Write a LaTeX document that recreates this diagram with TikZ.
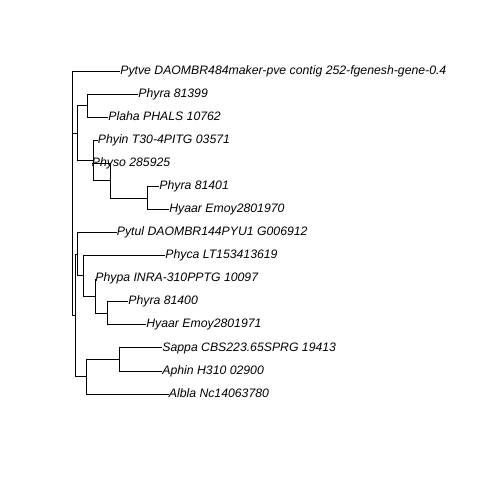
\documentclass[tikz,border=0pt]{standalone}
\usepackage{fontspec}
\setmainfont{Liberation Sans}
\begin{document}
\begin{tikzpicture}[x=1bp,y=-1bp,line width=0.8bp]
\tikzstyle{every node}+=[inner sep=0pt,anchor=west,text height=8.8bp,text depth=2.5bp,font=\fontsize{12.25bp}{14bp}\selectfont\itshape]
\useasboundingbox (0,0) rectangle (480,480);
\coordinate (root) at (72.7,193.2);
\coordinate (c1) at (77.7,133.0);
\coordinate (na) at (87,105.6);
\coordinate (nb) at (93.3,160.4);
\coordinate (nc) at (110,180.6);
\coordinate (nd) at (147,197.9);
\coordinate (r2) at (75,315.4);
\coordinate (ne) at (77.7,254.1);
\coordinate (nf) at (83.5,275.7);
\coordinate (np) at (95,295.9);
\coordinate (nq) at (107.5,313.25);
\coordinate (ng) at (86,376.7);
\coordinate (ns) at (119.5,359.4);
\node (pytve) at (120,71.0) {Pytve DAOMBR484maker-pve contig 252-fgenesh-gene-0.4};
\node (phyraa) at (138,94.07) {Phyra 81399};
\node (plaha) at (108,117.14) {Plaha PHALS 10762};
\node (phyin) at (97.5,140.21) {Phyin T30-4PITG 03571};
\node (physo) at (91.5,163.29) {Physo 285925};
\node (phyrab) at (159,186.36) {Phyra 81401};
\node (hyaara) at (169,209.43) {Hyaar Emoy2801970};
\node (pytul) at (116.5,232.5) {Pytul DAOMBR144PYU1 G006912};
\node (phyca) at (165,255.57) {Phyca LT153413619};
\node (phypa) at (95,278.64) {Phypa INRA-310PPTG 10097};
\node (phyrac) at (128,301.71) {Phyra 81400};
\node (hyaarb) at (146,324.79) {Hyaar Emoy2801971};
\node (sappa) at (162,347.86) {Sappa CBS223.65SPRG 19413};
\node (aphin) at (162,370.93) {Aphin H310 02900};
\node (albla) at (168.5,394.0) {Albla Nc14063780};
\draw (root) |- (pytve);
\draw (root) |- (c1);
\draw (root) |- (r2);
\draw (c1) |- (na);
\draw (c1) |- (nb);
\draw (na) |- (phyraa);
\draw (na) |- (plaha);
\draw (nb) |- (phyin);
\draw (nb) |- (nc);
\draw (nc) |- (physo);
\draw (nc) |- (nd);
\draw (nd) |- (phyrab);
\draw (nd) |- (hyaara);
\draw (r2) |- (ne);
\draw (r2) |- (ng);
\draw (ne) |- (pytul);
\draw (ne) |- (nf);
\draw (nf) |- (phyca);
\draw (nf) |- (np);
\draw (np) |- (phypa);
\draw (np) |- (nq);
\draw (nq) |- (phyrac);
\draw (nq) |- (hyaarb);
\draw (ng) |- (ns);
\draw (ng) |- (albla);
\draw (ns) |- (sappa);
\draw (ns) |- (aphin);
\end{tikzpicture}
\end{document}
